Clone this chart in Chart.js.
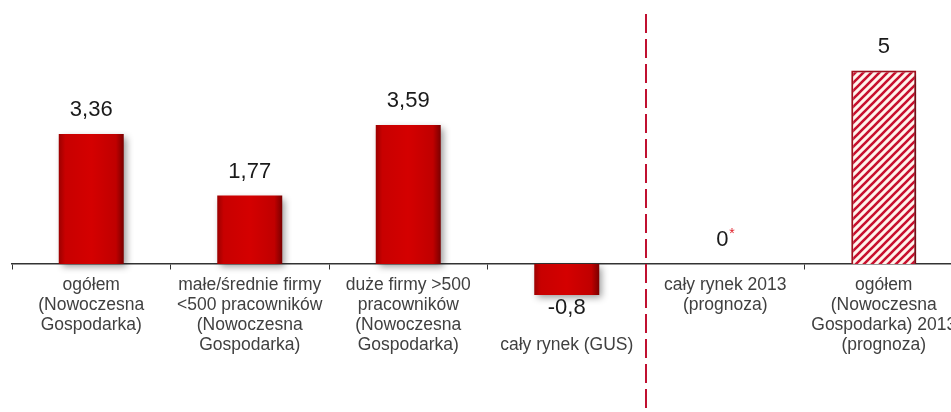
<!DOCTYPE html>
<html>
<head>
<meta charset="utf-8">
<script src="https://cdn.jsdelivr.net/npm/chart.js@4"></script>
<style>
  html, body { margin: 0; padding: 0; background: #fff; overflow: hidden; }
  #wrap { width: 951px; height: 412px; overflow: hidden; }
</style>
</head>
<body>
<div id="wrap"><canvas id="chart" width="963" height="412"></canvas></div>
<script>
const categories = [
  ['ogółem', '(Nowoczesna', 'Gospodarka)'],
  ['małe/średnie firmy', '<500 pracowników', '(Nowoczesna', 'Gospodarka)'],
  ['duże firmy >500', 'pracowników', '(Nowoczesna', 'Gospodarka)'],
  ['', '', '', 'cały rynek (GUS)'],
  ['cały rynek 2013', '(prognoza)'],
  ['ogółem', '(Nowoczesna', 'Gospodarka) 2013', '(prognoza)']
];
const values = [3.36, 1.77, 3.59, -0.8, 0, 5];
const notes = ['', '', '', '', '*', ''];
const forecast = [false, false, false, false, true, true];
const splitAfter = 3; // dashed line between "cały rynek (GUS)" and the forecasts

const BAR_FRACTION = 0.41;
const VALUE_FONT = '22px "Liberation Sans", Arial, sans-serif';

function hatchPattern() {
  const c = document.createElement('canvas');
  c.width = 8; c.height = 8;
  const g = c.getContext('2d');
  g.fillStyle = '#fff4ec';
  g.fillRect(0, 0, 8, 8);
  g.strokeStyle = '#c8102e';
  g.lineWidth = 2.6;
  g.beginPath();
  g.moveTo(-4, 4); g.lineTo(4, -4);
  g.moveTo(0, 8); g.lineTo(8, 0);
  g.moveTo(4, 12); g.lineTo(12, 4);
  g.stroke();
  return g.createPattern(c, 'repeat');
}
const hatch = hatchPattern();

function barFill(context) {
  const chart = context.chart;
  const i = context.dataIndex;
  if (forecast[i]) return hatch;
  const x = chart.scales.x;
  if (!chart.chartArea || !x) return '#c00000';
  const cx = x.getPixelForValue(i);
  const w = x.width / categories.length * BAR_FRACTION;
  const g = chart.ctx.createLinearGradient(cx - w / 2, 0, cx + w / 2, 0);
  g.addColorStop(0, '#9c0000');
  g.addColorStop(0.1, '#c80000');
  g.addColorStop(0.5, '#d40000');
  g.addColorStop(0.88, '#c00000');
  g.addColorStop(1, '#7a0000');
  return g;
}

const shadowPlugin = {
  id: 'shadow',
  beforeDatasetsDraw(chart) {
    const ctx = chart.ctx;
    ctx.save();
    ctx.shadowColor = 'rgba(0,0,0,0.4)';
    ctx.shadowBlur = 7;
    ctx.shadowOffsetX = 3;
    ctx.shadowOffsetY = 3;
  },
  afterDatasetsDraw(chart) {
    chart.ctx.restore();
  }
};

const decorPlugin = {
  id: 'decor',
  afterDraw(chart) {
    const ctx = chart.ctx;
    const x = chart.scales.x;
    const area = chart.chartArea;
    // dashed separator
    const sx = (x.getPixelForValue(splitAfter) + x.getPixelForValue(splitAfter + 1)) / 2;
    ctx.save();
    ctx.strokeStyle = '#c01030';
    ctx.lineWidth = 2;
    ctx.setLineDash([19, 6]);
    ctx.beginPath();
    ctx.moveTo(sx, area.top + 14);
    ctx.lineTo(sx, area.bottom);
    ctx.stroke();
    ctx.restore();

    // value labels
    const meta = chart.getDatasetMeta(0);
    ctx.save();
    ctx.font = VALUE_FONT;
    ctx.textBaseline = 'middle';
    meta.data.forEach((bar, i) => {
      const v = values[i];
      const txt = String(v).replace('.', ',');
      const y = v < 0 ? bar.y + 13 : bar.y - 24;
      ctx.fillStyle = '#1a1a1a';
      if (notes[i]) {
        const w = ctx.measureText(txt).width;
        ctx.textAlign = 'left';
        ctx.fillText(txt, bar.x - w / 2 - 3, y);
        ctx.fillStyle = '#e0202a';
        ctx.font = '14px "Liberation Sans", Arial, sans-serif';
        ctx.fillText(notes[i], bar.x + w / 2 - 2, y - 6);
        ctx.font = VALUE_FONT;
      } else {
        ctx.textAlign = 'center';
        ctx.fillText(txt, bar.x, y);
      }
    });
    ctx.restore();
  }
};

new Chart(document.getElementById('chart').getContext('2d'), {
  type: 'bar',
  data: {
    labels: categories,
    datasets: [{
      data: values,
      backgroundColor: barFill,
      borderColor: ctx => forecast[ctx.dataIndex] ? '#a8101e' : 'rgba(0,0,0,0)',
      borderWidth: ctx => forecast[ctx.dataIndex] ? 2 : 0,
      categoryPercentage: 1,
      barPercentage: BAR_FRACTION
    }]
  },
  options: {
    responsive: false,
    animation: false,
    layout: { padding: { left: 12, right: 0, top: 0, bottom: 0 }, autoPadding: false },
    plugins: { legend: { display: false }, tooltip: { enabled: false } },
    scales: {
      y: {
        display: false,
        min: -3.82,
        max: 6.82
      },
      x: {
        position: { y: 0 },
        border: { display: true, color: '#333', width: 1.5 },
        grid: { offset: true, drawOnChartArea: false, drawTicks: true, tickLength: 5, color: '#333', lineWidth: 1 },
        ticks: {
          autoSkip: false,
          maxRotation: 0,
          minRotation: 0,
          padding: 6,
          color: '#404040',
          font: { family: '"Liberation Sans", Arial, sans-serif', size: 17.5, lineHeight: '20px' }
        }
      }
    }
  },
  plugins: [shadowPlugin, decorPlugin]
});
</script>
</body>
</html>
